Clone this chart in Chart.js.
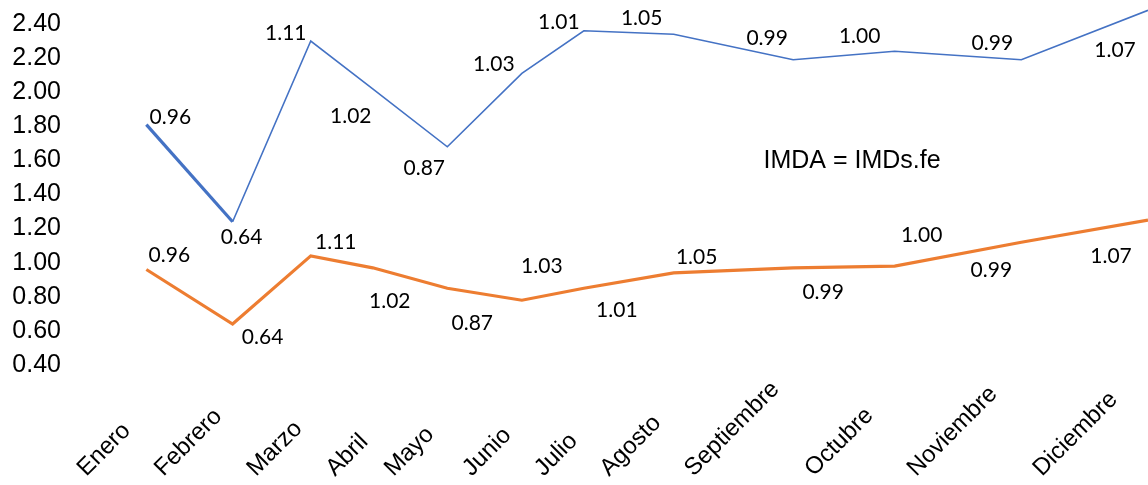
<!DOCTYPE html>
<html>
<head>
<meta charset="utf-8">
<title>IMDA = IMDs.fe</title>
<script src="https://cdn.jsdelivr.net/npm/chart.js@4/dist/chart.umd.min.js"></script>
<style>
  html, body { margin: 0; padding: 0; background: #fff; }
  #wrap { width: 1148px; height: 485px; }
</style>
</head>
<body>
<div id="wrap"><canvas id="chart" width="1148" height="485"></canvas></div>
<script>
// Months shown along the bottom
const months = ['Enero', 'Febrero', 'Marzo', 'Abril', 'Mayo', 'Junio', 'Julio',
                'Agosto', 'Septiembre', 'Octubre', 'Noviembre', 'Diciembre'];

// Position of each month on the horizontal scale (0 – 12)
const monthPos = [0.85, 1.81, 2.68, 3.37, 4.20, 5.03, 5.72, 6.72, 8.05, 9.18, 10.59, 12.0];

// Upper series (blue) and lower series (orange)
const seriesIMDA = [1.81, 1.24, 2.30, 2.02, 1.68, 2.11, 2.36, 2.34, 2.19, 2.24, 2.19, 2.48];
const seriesIMDs = [0.96, 0.64, 1.04, 0.97, 0.85, 0.78, 0.85, 0.94, 0.97, 0.98, 1.12, 1.25];

// Monthly ratio written beside the points of both lines
const ratios = [0.96, 0.64, 1.11, 1.02, 0.87, 1.03, 1.01, 1.05, 0.99, 1.00, 0.99, 1.07];

// Y axis tick values
const yTicks = [0.40, 0.60, 0.80, 1.00, 1.20, 1.40, 1.60, 1.80, 2.00, 2.20, 2.40];

// Layout: where each rotated month name starts on the horizontal scale
const monthLabelPos = [0.18, 1.04, 2.07, 2.95, 3.60, 4.47, 5.27, 6.00, 6.94, 8.28, 9.42, 10.82];

// Layout: ratio label offsets (px) from each point
const upperLabelOffset = [[24, -7], [9, 15], [-25, -8], [-22, 27], [-23, 21], [-28, -9],
                          [-25, -9], [-32, -16], [-26, -22], [-35, -15], [-29, -17], [-33, 40]];
const lowerLabelOffset = [[23, -14], [30, 13], [25, -14], [17, 33], [25, 35], [20, -34],
                          [33, 22], [23, -16], [30, 24], [27, -31], [-30, 28], [-37, 36]];

const BLUE = '#4472C4';
const ORANGE = '#ED7D31';

const toPoints = (vals) => vals.map((v, i) => ({ x: monthPos[i], y: v }));

// Draws the ratio labels, the formula note and the rotated month names
const annotations = {
  id: 'annotations',
  afterDatasetsDraw(chart) {
    const { ctx, scales } = chart;
    ctx.save();
    ctx.fillStyle = '#000';

    // Ratio labels next to each point
    ctx.font = '21px Lato, "Liberation Sans", sans-serif';
    ctx.textAlign = 'center';
    ctx.textBaseline = 'middle';
    chart.data.datasets.forEach((ds, di) => {
      const meta = chart.getDatasetMeta(di);
      const offs = di === 0 ? upperLabelOffset : lowerLabelOffset;
      meta.data.forEach((pt, i) => {
        ctx.fillText(ratios[i].toFixed(2), pt.x + offs[i][0], pt.y + offs[i][1]);
      });
    });

    // Formula note
    ctx.font = '25px "Liberation Sans", Arial, sans-serif';
    ctx.textAlign = 'left';
    ctx.textBaseline = 'alphabetic';
    ctx.fillText('IMDA = IMDs.fe', scales.x.getPixelForValue(7.72), scales.y.getPixelForValue(1.555));

    // Month names, rotated 45°, starting at the bottom edge
    ctx.font = '24px "Liberation Sans", Arial, sans-serif';
    months.forEach((m, i) => {
      const px = scales.x.getPixelForValue(monthLabelPos[i]);
      ctx.save();
      ctx.translate(px, 477);
      ctx.rotate(-Math.PI / 4);
      ctx.fillText(m, 0, 0);
      ctx.restore();
    });
    ctx.restore();
  }
};

new Chart(document.getElementById('chart'), {
  type: 'line',
  data: {
    datasets: [
      {
        label: 'IMDA',
        data: toPoints(seriesIMDA),
        borderColor: BLUE,
        borderWidth: 1.6,
        segment: {
          borderWidth: (c) => (c.p0DataIndex === 0 ? 3.2 : 1.6)
        },
        pointRadius: 0,
        tension: 0,
        clip: false
      },
      {
        label: 'IMDs.fe',
        data: toPoints(seriesIMDs),
        borderColor: ORANGE,
        borderWidth: 3.2,
        pointRadius: 0,
        tension: 0,
        clip: false
      }
    ]
  },
  options: {
    responsive: false,
    animation: false,
    events: [],
    layout: { padding: { top: 22, bottom: 120, left: 0, right: 0 } },
    plugins: {
      legend: { display: false },
      tooltip: { enabled: false }
    },
    scales: {
      x: {
        type: 'linear',
        min: 0,
        max: 12,
        display: false
      },
      y: {
        min: 0.4,
        max: 2.4,
        afterBuildTicks: (scale) => { scale.ticks = yTicks.map(v => ({ value: v })); },
        afterFit: (scale) => { scale.width = 70; },
        grid: { display: false, drawTicks: false },
        border: { display: false },
        ticks: {
          padding: 9,
          color: '#000',
          font: { family: '"Liberation Sans", Arial, sans-serif', size: 25 },
          callback: (v) => Number(v).toFixed(2)
        }
      }
    }
  },
  plugins: [annotations]
});
</script>
</body>
</html>
